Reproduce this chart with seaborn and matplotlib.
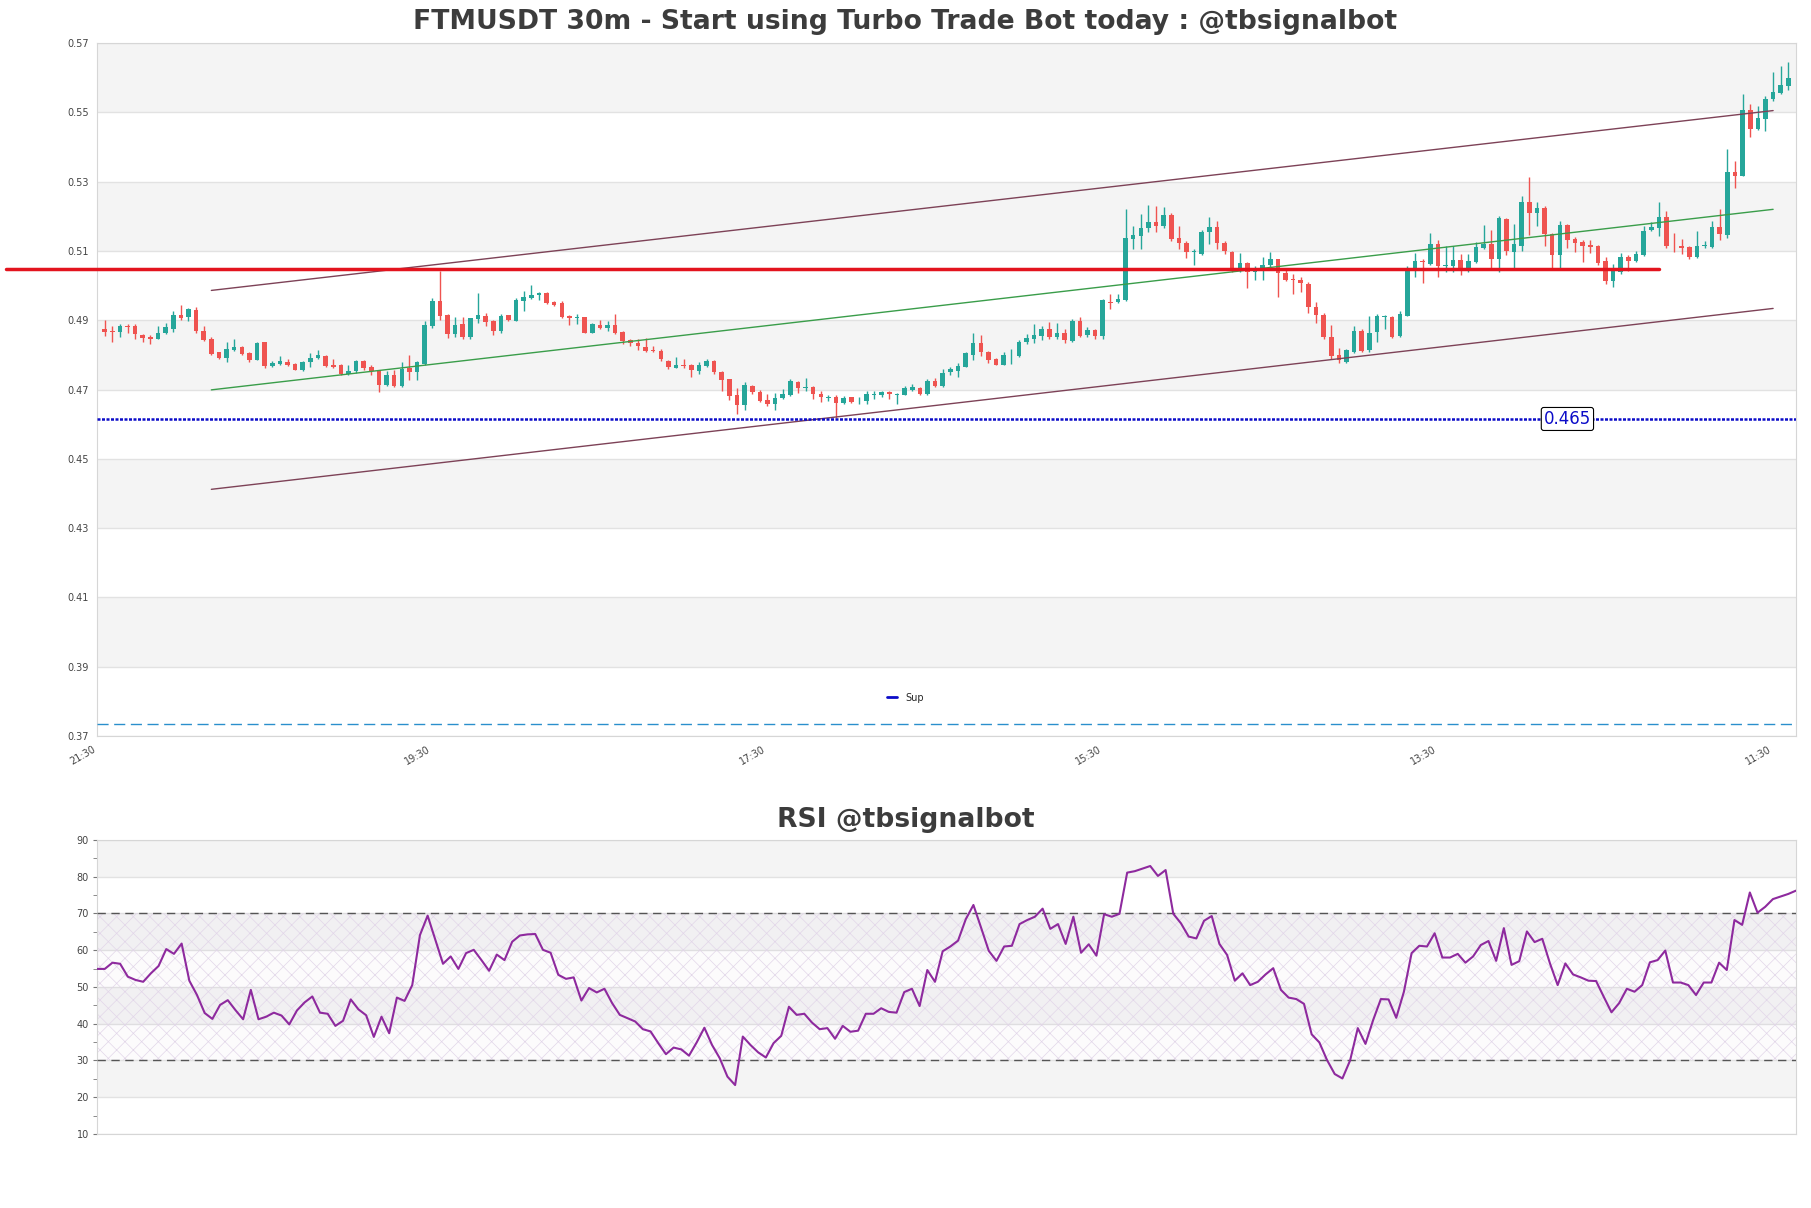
import numpy as np
import matplotlib
matplotlib.use("Agg")
import matplotlib.pyplot as plt
from matplotlib.lines import Line2D
from matplotlib.ticker import FormatStrFormatter, MultipleLocator
import seaborn as sns
import pandas as pd

# ---- data (30m candles, oldest first) ----
opens = [
    .4874, .4870, .4866, .4884, .4884, .4857, .4853, .4847, .4862, .4874,
    .4914, .4908, .4929, .4869, .4845, .4807, .4792, .4814, .4823, .4806,
    .4786, .4837, .4768, .4774, .4779, .4774, .4757, .4778, .4790, .4797,
    .4770, .4770, .4745, .4753, .4782, .4764, .4755, .4712, .4743, .4709,
    .4761, .4751, .4773, .4882, .4956, .4914, .4860, .4888, .4853, .4903,
    .4911, .4898, .4869, .4914, .4898, .4956, .4964, .4974, .4978, .4953,
    .4951, .4913, .4906, .4908, .4864, .4887, .4878, .4887, .4866, .4843,
    .4833, .4824, .4814, .4811, .4782, .4763, .4771, .4770, .4753, .4768,
    .4783, .4752, .4729, .4683, .4654, .4710, .4694, .4671, .4657, .4676,
    .4683, .4723, .4704, .4708, .4688, .4676, .4679, .4661, .4677, .4669,
    .4666, .4684, .4683, .4692, .4685, .4685, .4700, .4705, .4687, .4726,
    .4710, .4750, .4753, .4766, .4801, .4833, .4808, .4787, .4772, .4799,
    .4797, .4837, .4847, .4855, .4874, .4852, .4862, .4840, .4897, .4857,
    .4871, .4855, .4954, .4953, .4959, .5135, .5144, .5166, .5183, .5171,
    .5204, .5137, .5123, .5098, .5091, .5154, .5169, .5123, .5097, .5045,
    .5064, .5040, .5047, .5059, .5076, .5036, .5020, .5016, .5004, .4939,
    .4916, .4853, .4799, .4780, .4809, .4868, .4814, .4866, .4908, .4909,
    .4855, .4913, .5043, .5070, .5062, .5120, .5057, .5057, .5073, .5045,
    .5069, .5108, .5120, .5076, .5192, .5097, .5115, .5242, .5209, .5224,
    .5149, .5088, .5175, .5134, .5126, .5117, .5114, .5071, .5014, .5040,
    .5081, .5071, .5089, .5160, .5166, .5197, .5115, .5114, .5111, .5082,
    .5113, .5110, .5168, .5146, .5327, .5317, .5507, .5452, .5481, .5537,
    .5556, .5577,
]
closes = [
    .4866, .4867, .4884, .4881, .4859, .4850, .4847, .4864, .4879, .4914,
    .4907, .4931, .4869, .4843, .4802, .4791, .4816, .4822, .4803, .4786,
    .4833, .4768, .4776, .4782, .4772, .4757, .4780, .4791, .4799, .4768,
    .4764, .4744, .4753, .4782, .4761, .4753, .4712, .4742, .4709, .4759,
    .4751, .4778, .4886, .4956, .4913, .4860, .4886, .4853, .4905, .4914,
    .4895, .4869, .4913, .4901, .4959, .4968, .4974, .4978, .4949, .4945,
    .4910, .4905, .4910, .4864, .4888, .4878, .4887, .4864, .4839, .4833,
    .4827, .4811, .4810, .4787, .4766, .4772, .4768, .4756, .4770, .4783,
    .4750, .4727, .4681, .4654, .4712, .4692, .4667, .4658, .4676, .4686,
    .4724, .4704, .4708, .4688, .4677, .4679, .4661, .4676, .4665, .4671,
    .4686, .4688, .4692, .4687, .4687, .4704, .4706, .4687, .4726, .4710,
    .4748, .4760, .4768, .4804, .4833, .4808, .4785, .4772, .4800, .4801,
    .4838, .4849, .4857, .4874, .4852, .4862, .4843, .4899, .4855, .4871,
    .4855, .4958, .4951, .4961, .5137, .5146, .5166, .5183, .5171, .5204,
    .5135, .5122, .5098, .5100, .5156, .5169, .5122, .5099, .5043, .5064,
    .5040, .5052, .5059, .5078, .5036, .5017, .5017, .5006, .4937, .4916,
    .4853, .4797, .4784, .4814, .4868, .4811, .4864, .4913, .4911, .4853,
    .4917, .5047, .5070, .5067, .5120, .5057, .5060, .5073, .5047, .5071,
    .5110, .5120, .5076, .5196, .5100, .5120, .5242, .5209, .5224, .5149,
    .5088, .5175, .5132, .5122, .5115, .5112, .5065, .5014, .5043, .5081,
    .5071, .5090, .5158, .5170, .5197, .5114, .5113, .5109, .5082, .5114,
    .5118, .5168, .5150, .5327, .5315, .5507, .5452, .5483, .5539, .5560,
    .5579, .5598,
]
highs = [
    .4900, .4882, .4888, .4888, .4888, .4860, .4857, .4882, .4891, .4927,
    .4943, .4934, .4937, .4882, .4853, .4809, .4836, .4847, .4826, .4809,
    .4836, .4838, .4783, .4797, .4789, .4777, .4783, .4805, .4814, .4799,
    .4789, .4773, .4770, .4785, .4784, .4772, .4757, .4754, .4756, .4778,
    .4799, .4783, .4898, .4963, .5042, .4917, .4910, .4908, .4907, .4978,
    .4922, .4901, .4917, .4916, .4965, .4985, .5001, .4982, .4982, .4956,
    .4956, .4914, .4917, .4910, .4893, .4901, .4899, .4917, .4869, .4847,
    .4847, .4850, .4826, .4818, .4785, .4795, .4787, .4775, .4779, .4787,
    .4785, .4754, .4731, .4705, .4721, .4712, .4700, .4687, .4690, .4702,
    .4731, .4725, .4734, .4710, .4695, .4683, .4683, .4681, .4679, .4679,
    .4696, .4696, .4696, .4696, .4690, .4710, .4715, .4708, .4729, .4733,
    .4758, .4766, .4777, .4808, .4864, .4857, .4811, .4792, .4808, .4816,
    .4843, .4859, .4889, .4884, .4895, .4891, .4874, .4903, .4908, .4881,
    .4876, .4961, .4975, .4975, .5220, .5171, .5207, .5233, .5231, .5227,
    .5210, .5171, .5130, .5106, .5159, .5198, .5185, .5130, .5100, .5094,
    .5067, .5057, .5081, .5097, .5078, .5052, .5032, .5026, .5009, .4954,
    .4922, .4886, .4820, .4818, .4882, .4874, .4913, .4917, .4914, .4911,
    .4927, .5057, .5094, .5078, .5151, .5132, .5113, .5115, .5091, .5091,
    .5126, .5175, .5161, .5201, .5194, .5177, .5259, .5312, .5242, .5230,
    .5153, .5187, .5177, .5141, .5132, .5132, .5117, .5081, .5061, .5094,
    .5088, .5099, .5171, .5184, .5240, .5214, .5151, .5134, .5113, .5158,
    .5129, .5185, .5221, .5394, .5360, .5553, .5524, .5519, .5548, .5616,
    .5635, .5644,
]
lows = [
    .4855, .4837, .4853, .4864, .4847, .4838, .4832, .4845, .4860, .4866,
    .4901, .4898, .4864, .4839, .4799, .4787, .4780, .4811, .4799, .4780,
    .4784, .4763, .4766, .4772, .4768, .4755, .4754, .4766, .4787, .4766,
    .4762, .4742, .4742, .4749, .4757, .4743, .4693, .4709, .4708, .4706,
    .4728, .4728, .4770, .4877, .4901, .4850, .4853, .4847, .4845, .4893,
    .4882, .4858, .4864, .4898, .4897, .4927, .4961, .4959, .4946, .4941,
    .4905, .4886, .4888, .4862, .4862, .4874, .4869, .4860, .4830, .4826,
    .4814, .4809, .4807, .4783, .4760, .4761, .4763, .4737, .4746, .4766,
    .4744, .4696, .4669, .4630, .4642, .4688, .4663, .4652, .4642, .4673,
    .4681, .4690, .4695, .4673, .4663, .4666, .4618, .4659, .4661, .4657,
    .4657, .4673, .4679, .4673, .4659, .4683, .4695, .4685, .4685, .4706,
    .4708, .4743, .4737, .4764, .4785, .4797, .4777, .4770, .4771, .4775,
    .4795, .4830, .4835, .4843, .4845, .4845, .4833, .4837, .4851, .4853,
    .4845, .4845, .4932, .4949, .4956, .5106, .5106, .5156, .5154, .5166,
    .5130, .5106, .5079, .5059, .5089, .5120, .5106, .5091, .5040, .5040,
    .4994, .5017, .5017, .5055, .4966, .5014, .4975, .4980, .4920, .4891,
    .4847, .4789, .4776, .4776, .4805, .4807, .4809, .4836, .4874, .4849,
    .4852, .4911, .5026, .5007, .5059, .5026, .5040, .5040, .5030, .5040,
    .5065, .5105, .5049, .5038, .5088, .5045, .5099, .5146, .5173, .5115,
    .5047, .5047, .5109, .5097, .5067, .5094, .5059, .5004, .4995, .5033,
    .5043, .5069, .5086, .5157, .5144, .5107, .5097, .5091, .5078, .5080,
    .5108, .5107, .5132, .5137, .5283, .5315, .5428, .5450, .5447, .5534,
    .5553, .5565,
]
rsi_values = [
    54.9, 54.9, 56.6, 56.3, 52.8, 51.9, 51.4, 53.7, 55.7, 60.3,
    59.0, 61.8, 51.7, 47.8, 42.9, 41.3, 45.1, 46.4, 43.7, 41.2,
    49.2, 41.2, 41.9, 43.0, 42.2, 39.8, 43.6, 45.8, 47.4, 43.0,
    42.7, 39.4, 40.8, 46.6, 43.9, 42.3, 36.4, 41.9, 37.4, 47.1,
    46.2, 50.5, 64.1, 69.4, 62.8, 56.3, 58.3, 54.9, 59.2, 60.1,
    57.3, 54.4, 58.8, 57.3, 62.3, 64.0, 64.3, 64.4, 60.1, 59.3,
    53.3, 52.2, 52.6, 46.3, 49.7, 48.5, 49.5, 45.6, 42.4, 41.5,
    40.6, 38.5, 37.9, 34.7, 31.7, 33.5, 33.0, 31.3, 34.9, 38.9,
    34.2, 30.6, 25.6, 23.3, 36.5, 34.2, 32.2, 30.8, 34.7, 36.7,
    44.6, 42.4, 42.7, 40.3, 38.5, 38.8, 35.9, 39.4, 37.8, 38.1,
    42.7, 42.7, 44.2, 43.2, 43.0, 48.6, 49.5, 44.8, 54.6, 51.4,
    59.7, 61.0, 62.6, 68.4, 72.3, 66.1, 59.8, 57.1, 61.0, 61.2,
    67.1, 68.2, 69.1, 71.3, 65.8, 67.1, 61.7, 69.1, 59.3, 61.6,
    58.5, 69.8, 69.1, 69.9, 81.1, 81.5, 82.2, 82.9, 80.2, 81.8,
    69.9, 67.3, 63.7, 63.2, 68.0, 69.3, 61.7, 58.7, 51.7, 53.7,
    50.5, 51.4, 53.4, 55.1, 49.2, 47.1, 46.7, 45.4, 37.1, 34.9,
    30.1, 26.3, 25.1, 30.0, 38.8, 34.5, 41.0, 46.7, 46.6, 41.6,
    48.7, 59.2, 61.2, 61.0, 64.6, 58.0, 58.0, 59.0, 56.6, 58.3,
    61.4, 62.5, 57.1, 66.0, 56.0, 57.0, 65.1, 62.2, 63.1, 56.4,
    50.5, 56.4, 53.4, 52.6, 51.7, 51.6, 47.3, 43.1, 45.6, 49.5,
    48.7, 50.5, 56.7, 57.3, 59.9, 51.2, 51.2, 50.5, 47.8, 51.2,
    51.2, 56.6, 54.6, 68.2, 66.9, 75.7, 70.2, 71.8, 73.9, 74.6,
    75.3, 76.2,
]
tick_positions = [-1, 43, 87, 131, 175, 219]
tick_labels = ["21:30", "19:30", "17:30", "15:30", "13:30", "11:30"]

resistance = 0.5048
resistance_span = [-13, 204]
support = 0.4615
support_label = "0.465"
lower_dash = 0.3734
channel_x = [14, 219]
channel_upper = [0.4986, 0.5505]
channel_mid = [0.4699, 0.5220]
channel_lower = [0.4412, 0.4934]

title = "FTMUSDT 30m - Start using Turbo Trade Bot today : @tbsignalbot"
rsi_title = "RSI @tbsignalbot"

# ---- style ----
sns.set_style("white")
plt.rcParams["font.family"] = ["DejaVu Sans"]
plt.rcParams["hatch.linewidth"] = 0.5

UP, DOWN = "#26a69a", "#ef5350"
BAND = "#f4f4f4"
GRID = "#e2e2e2"
SPINE = "#d6d6d6"
TXT = "#444444"
SUP_BLUE = "#0c0cc8"

df = pd.DataFrame({"open": opens, "high": highs, "low": lows, "close": closes})
df["x"] = np.arange(len(df))
df["color"] = np.where(df["close"] >= df["open"], UP, DOWN)

fig = plt.figure(figsize=(18.11, 12.08), dpi=100)
ax = fig.add_axes([0.0536, 0.3907, 0.9381, 0.5737])
ax_rsi = fig.add_axes([0.0536, 0.0613, 0.9381, 0.2434])

# ---- price panel ----
for lo in np.arange(0.39, 0.57, 0.04):
    ax.axhspan(lo, lo + 0.02, color=BAND, zorder=0, lw=0)

ax.vlines(df["x"], df["low"], df["high"], colors=df["color"], lw=1.0, zorder=2)
body = np.maximum((df["close"] - df["open"]).abs(), 0.00012)
ax.bar(df["x"], body, bottom=df[["open", "close"]].min(axis=1), width=0.6,
       color=df["color"], lw=0, zorder=3)

ax.plot(channel_x, channel_upper, color="#7d4257", lw=1.0, zorder=4)
ax.plot(channel_x, channel_lower, color="#7d4257", lw=1.0, zorder=4)
ax.plot(channel_x, channel_mid, color="#3a9d4a", lw=1.0, zorder=4)

ax.plot(resistance_span, [resistance, resistance], color="#e3141e", lw=2.5,
        zorder=5, clip_on=False)
ax.plot([-1, 222], [support, support], color=SUP_BLUE, lw=1.8,
        ls=(0, (1.2, 0.6)), zorder=5)
ax.axhline(lower_dash, color="#2a8fcc", lw=1.0, ls=(0, (8, 4)), zorder=4)
ax.text(192, support, support_label, color=SUP_BLUE, fontsize=12,
        ha="center", va="center", zorder=6,
        bbox=dict(boxstyle="round,pad=0.15", fc="white", ec="black", lw=0.8))

ax.set_xlim(-1, 222)
ax.set_ylim(0.37, 0.57)
ax.set_yticks(np.arange(0.37, 0.5701, 0.02))
ax.yaxis.set_major_formatter(FormatStrFormatter("%.2f"))
ax.set_xticks(tick_positions)
ax.set_xticklabels(tick_labels, rotation=30, ha="right")
ax.tick_params(axis="both", length=0, labelsize=7, labelcolor=TXT, pad=6)
ax.grid(axis="y", color=GRID, lw=1, zorder=1)
ax.grid(axis="x", visible=False)
ax.set_axisbelow(True)
for s in ax.spines.values():
    s.set_color(SPINE)

sup_handle = Line2D([], [], color=SUP_BLUE, lw=2.0)
fig.legend(handles=[sup_handle], labels=["Sup"], loc="center",
           bbox_to_anchor=(0.5, 0.4225), frameon=False, fontsize=7,
           handlelength=1.0)

# ---- RSI panel ----
for lo in [20, 40, 60, 80]:
    ax_rsi.axhspan(lo, lo + 10, color=BAND, zorder=0, lw=0)
ax_rsi.axhspan(30, 70, facecolor=(0.55, 0.35, 0.65, 0.025), hatch="xx",
               edgecolor="#e2d6e9", lw=0, zorder=1)
for lvl in [30, 70]:
    ax_rsi.axhline(lvl, color="#555555", lw=1.0, ls=(0, (6, 4)), zorder=3)

rsi_df = pd.DataFrame({"x": np.arange(len(rsi_values)), "rsi": rsi_values})
sns.lineplot(data=rsi_df, x="x", y="rsi", ax=ax_rsi, color="#8e2a9e",
             lw=1.5, zorder=4)

ax_rsi.set_xlim(0, len(rsi_values) - 1)
ax_rsi.set_ylim(10, 90)
ax_rsi.yaxis.set_major_locator(MultipleLocator(10))
ax_rsi.yaxis.set_minor_locator(MultipleLocator(5))
ax_rsi.set_xticks([])
ax_rsi.set_xlabel("")
ax_rsi.set_ylabel("")
ax_rsi.tick_params(axis="y", which="both", left=True, length=3, color="#777777",
                   labelsize=7, labelcolor=TXT, pad=3)
ax_rsi.grid(axis="y", which="major", color=GRID, lw=1, zorder=1)
ax_rsi.set_axisbelow(True)
for s in ax_rsi.spines.values():
    s.set_color(SPINE)

fig.text(0.5, 0.982, title, ha="center", va="center", fontsize=19.2,
         fontweight="bold", color="#3c3c3c")
fig.text(0.5, 0.3212, rsi_title, ha="center", va="center", fontsize=19.2,
         fontweight="bold", color="#3c3c3c")

fig.savefig("out.png", dpi=100)
